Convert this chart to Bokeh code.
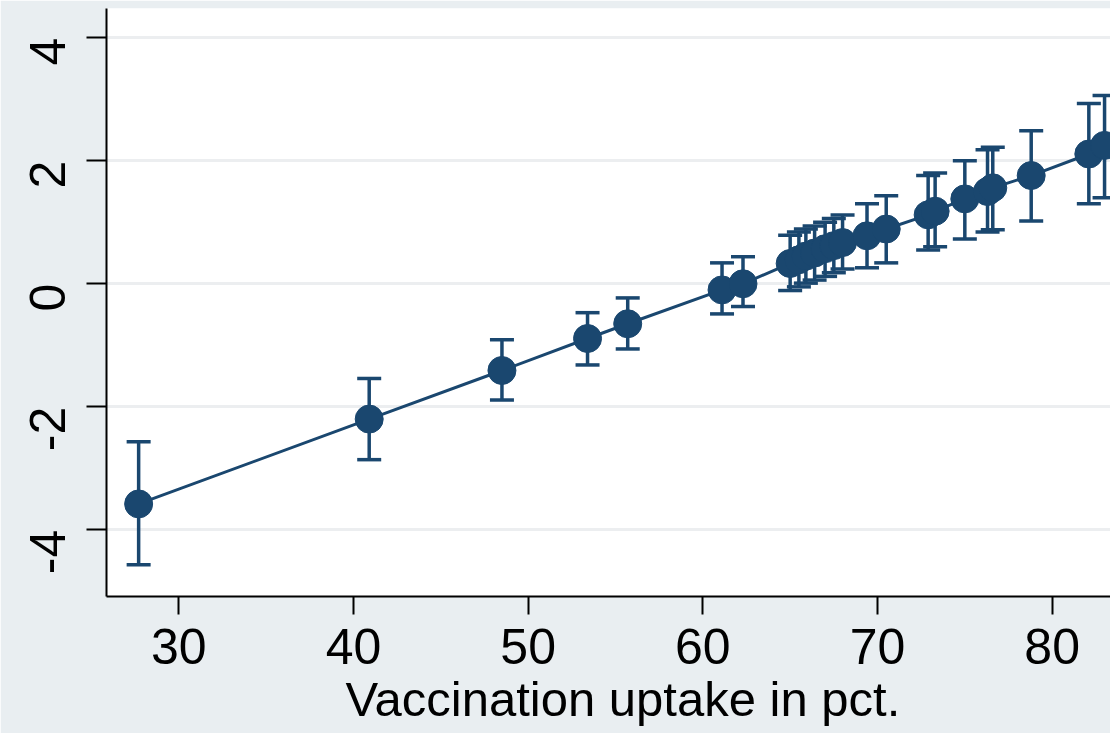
import math
from bokeh.plotting import figure
from bokeh.models import ColumnDataSource, Whisker, TeeHead, Title, Range1d, FixedTicker
from bokeh.embed import file_html
from bokeh.resources import INLINE

# data
uptake = [27.7, 40.9, 48.5, 53.4, 55.7, 61.1, 62.3, 65.0, 65.5, 65.9, 66.4, 67.0,
          67.5, 68.0, 69.4, 70.5, 72.9, 73.3, 75.0, 76.3, 76.6, 78.8, 82.1, 83.0]
effect = [-3.58, -2.20, -1.41, -0.89, -0.65, -0.10, 0.00, 0.33, 0.39, 0.45, 0.50, 0.57,
          0.62, 0.67, 0.78, 0.89, 1.12, 1.18, 1.38, 1.50, 1.56, 1.76, 2.11, 2.25]
upper = [-2.57, -1.54, -0.91, -0.47, -0.23, 0.34, 0.44, 0.79, 0.84, 0.89, 0.94, 1.00,
         1.06, 1.12, 1.30, 1.43, 1.76, 1.80, 2.00, 2.18, 2.22, 2.49, 2.93, 3.06]
lower = [-4.57, -2.86, -1.89, -1.32, -1.06, -0.49, -0.37, -0.11, -0.05, 0.01, 0.06, 0.12,
         0.18, 0.24, 0.26, 0.34, 0.55, 0.60, 0.73, 0.84, 0.88, 1.02, 1.30, 1.40]
x_ticks = [30, 40, 50, 60, 70, 80]
y_ticks = [-4, -2, 0, 2, 4]
y_tick_labels = ["-4", "-2", "0", "2", "4"]
x_title = "Vaccination uptake in pct."

navy = "#1a476f"
font = "Liberation Sans"

src = ColumnDataSource(dict(x=uptake, y=effect, upper=upper, lower=lower))

p = figure(width=1110, height=733,
           x_range=Range1d(25.86, 83.34), y_range=Range1d(-5.085, 4.476),
           output_backend="svg", toolbar_location=None,
           min_border_left=106, min_border_right=0, min_border_top=8, min_border_bottom=137)
p.background_fill_color = "white"
p.border_fill_color = "#e9eef1"
p.outline_line_color = None

p.xgrid.visible = False
p.ygrid.grid_line_color = "#eceef0"
p.ygrid.grid_line_width = 3

for ax in (p.xaxis[0], p.yaxis[0]):
    ax.axis_line_color = "black"
    ax.axis_line_width = 2
    ax.major_tick_line_color = "black"
    ax.major_tick_line_width = 2
    ax.major_tick_in = 0
    ax.minor_tick_line_color = None
    ax.major_label_text_font = font
    ax.major_label_text_font_size = "50px"
    ax.major_label_text_color = "black"

p.xaxis.ticker = FixedTicker(ticks=x_ticks)
p.yaxis.ticker = FixedTicker(ticks=y_ticks)
p.yaxis.major_label_overrides = {t: s for t, s in zip(y_ticks, y_tick_labels)}
p.xaxis.major_tick_out = 18
p.yaxis.major_tick_out = 20
p.xaxis.major_label_standoff = 14
p.yaxis.major_label_standoff = 39
p.yaxis.major_label_orientation = math.pi / 2

w = Whisker(source=src, base="x", upper="upper", lower="lower",
            line_color=navy, line_width=3.5,
            upper_head=TeeHead(size=24, line_color=navy, line_width=3.5),
            lower_head=TeeHead(size=24, line_color=navy, line_width=3.5))
p.add_layout(w)

p.line("x", "y", source=src, line_color=navy, line_width=3)
p.scatter("x", "y", source=src, size=28, fill_color=navy, line_color=navy)

p.add_layout(Title(text=x_title, align="left", offset=239, standoff=6,
                   vertical_align="bottom",
                   text_font=font, text_font_size="49px", text_font_style="normal",
                   text_color="black"), "below")

open("out.html", "w").write(file_html(p, INLINE))
